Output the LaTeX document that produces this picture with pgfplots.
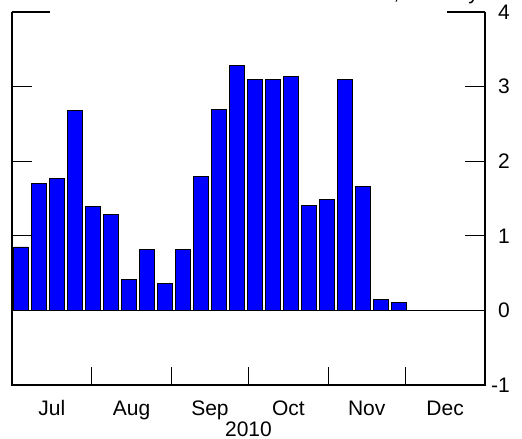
\documentclass[border=0pt]{standalone}
\usepackage{fontspec}
\setmainfont{Liberation Sans}
\usepackage{pgfplots}
\pgfplotsset{compat=1.18}
\begin{document}
\begin{tikzpicture}
\path[use as bounding box] (-12pt,-54pt) rectangle (510pt,385pt);
\begin{axis}[
  scale only axis,
  width=473pt, height=373pt,
  xmin=0, xmax=184,
  ymin=-1, ymax=4,
  axis line style={draw=none},
  tick align=inside,
  major tick length=20pt,
  every tick/.style={black, line width=1.3pt},
  xtick={0,31,62,92,123,153,184},
  xticklabels={Jul,Aug,Sep,Oct,Nov,Dec},
  x tick label as interval,
  xtick pos=left,
  xtick style={/pgfplots/major tick length=18pt},
  ytick={-1,0,1,2,3,4},
  yticklabels={-1,0,1,2,3,4},
  ytick pos=both,
  yticklabel pos=right,
  minor tick num=0,
  tick label style={font=\fontsize{21}{25}\selectfont},
  xticklabel style={anchor=base, yshift=-30pt},
  yticklabel style={anchor=east, inner sep=0pt, xshift=25pt},
  xlabel={2010},
  xlabel style={font=\fontsize{21}{25}\selectfont, at={(axis description cs:0.5,0)}, anchor=base, yshift=-51pt},
  clip=false,
]
\addplot[ybar, bar width=5.6, fill={rgb,255:red,0;green,0;blue,255}, draw=black, line width=0.8pt]
coordinates {
(3.5,0.85) (10.5,1.70) (17.5,1.77) (24.5,2.68) (31.5,1.39) (38.5,1.29)
(45.5,0.415) (52.5,0.82) (59.5,0.357) (66.5,0.82) (73.5,1.80) (80.5,2.69)
(87.5,3.28) (94.5,3.09) (101.5,3.10) (108.5,3.14) (115.5,1.41) (122.5,1.49)
(129.5,3.09) (136.5,1.66) (143.5,0.15) (150.5,0.11)
};
\draw[black, line width=1.3pt] (axis cs:0,0) -- (axis cs:184,0);
\draw[black, line width=1.3pt] (rel axis cs:0,1) -- (rel axis cs:0,0) -- (rel axis cs:1,0) -- (rel axis cs:1,1);
\draw[black, line width=1.3pt] (rel axis cs:0,1) -- ([xshift=38pt]rel axis cs:0,1);
\draw[black, line width=1.3pt] (rel axis cs:1,1) -- ([xshift=-38pt]rel axis cs:1,1);
\end{axis}
\node[anchor=base east, inner sep=0pt, font=\fontsize{21}{25}\selectfont] at (467pt,385pt) {Percent, monthly};
\end{tikzpicture}
\end{document}
